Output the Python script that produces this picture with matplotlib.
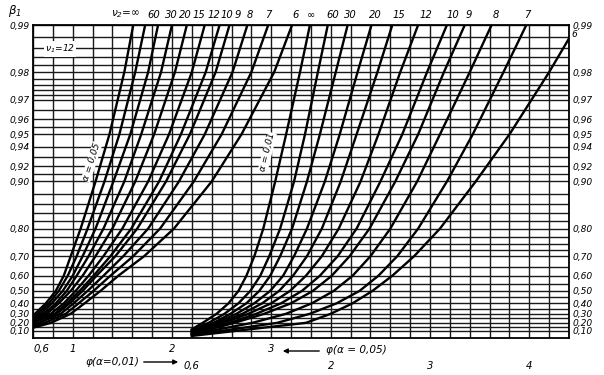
import numpy as np
import matplotlib
matplotlib.use('Agg')
import matplotlib.pyplot as plt

plt.rcParams['font.family'] = ['DejaVu Sans']
plt.rcParams['font.style'] = 'italic'

# ---------------- data ----------------
beta_ticks = [0.10, 0.20, 0.30, 0.40, 0.50, 0.60, 0.70, 0.80, 0.90, 0.92,
              0.94, 0.95, 0.96, 0.97, 0.98, 0.99]
beta_tick_labels = ['0,10', '0,20', '0,30', '0,40', '0,50', '0,60', '0,70',
                    '0,80', '0,90', '0,92', '0,94', '0,95', '0,96', '0,97',
                    '0,98', '0,99']
beta_grid = [0.10, 0.15, 0.20, 0.25, 0.30, 0.35, 0.40, 0.45, 0.50, 0.55,
             0.60, 0.65, 0.70, 0.725, 0.75, 0.775, 0.80, 0.82, 0.84, 0.86,
             0.88, 0.90, 0.91, 0.92, 0.93, 0.94, 0.95, 0.955, 0.96, 0.965,
             0.97, 0.972, 0.974, 0.976, 0.978, 0.98, 0.982, 0.984, 0.986,
             0.988, 0.99]

nu2_labels = ['∞', '60', '30', '20', '15', '12', '10', '9', '8', '7', '6']

# power levels at which the curves are read (None = curve starts above)
beta_levels = [0.2, 0.3, 0.4, 0.5, 0.6, 0.7, 0.8, 0.9, 0.95, 0.98, 0.99]

# alpha = 0.05 family (row-1 phi scale); every curve starts at phi = 0.6
a05_start_phi = 0.6
a05_start_beta = [0.28, 0.27, 0.26, 0.25, 0.23, 0.22, 0.21, 0.20, 0.18, 0.16, 0.14]
a05_phi = [
    [None, 0.62, 0.73, 0.83, 0.91, 0.98, 1.08, 1.23, 1.37, 1.52, 1.61],
    [None, 0.65, 0.76, 0.86, 0.95, 1.04, 1.15, 1.32, 1.47, 1.63, 1.73],
    [None, 0.68, 0.79, 0.90, 1.00, 1.10, 1.23, 1.41, 1.58, 1.76, 1.86],
    [None, 0.71, 0.83, 0.94, 1.04, 1.16, 1.31, 1.52, 1.69, 1.89, 2.00],
    [None, 0.74, 0.86, 0.98, 1.10, 1.23, 1.40, 1.63, 1.82, 2.03, 2.15],
    [None, 0.78, 0.91, 1.03, 1.16, 1.31, 1.50, 1.76, 1.97, 2.20, 2.33],
    [None, 0.82, 0.94, 1.07, 1.21, 1.38, 1.59, 1.87, 2.09, 2.34, 2.48],
    [None, 0.84, 0.97, 1.10, 1.24, 1.43, 1.65, 1.94, 2.18, 2.44, 2.58],
    [0.66, 0.88, 1.01, 1.15, 1.31, 1.51, 1.76, 2.07, 2.33, 2.61, 2.76],
    [0.72, 0.93, 1.06, 1.21, 1.38, 1.61, 1.88, 2.22, 2.50, 2.80, 2.97],
    [0.78, 0.98, 1.12, 1.28, 1.46, 1.72, 2.02, 2.40, 2.70, 3.03, 3.21],
]

# alpha = 0.01 family (row-2 phi scale); every curve starts at phi = 0.6
a01_start_phi = 0.6
a01_start_beta = [0.12, 0.11, 0.10, 0.09, 0.08, 0.07, 0.06, 0.055, 0.05, 0.04, 0.03]
a01_phi = [
    [0.71, 0.85, 0.97, 1.07, 1.15, 1.23, 1.32, 1.44, 1.55, 1.69, 1.79],
    [0.77, 0.93, 1.07, 1.19, 1.29, 1.38, 1.49, 1.63, 1.74, 1.87, 1.97],
    [0.82, 0.99, 1.15, 1.28, 1.39, 1.49, 1.61, 1.76, 1.89, 2.05, 2.17],
    [0.85, 1.05, 1.23, 1.39, 1.52, 1.63, 1.76, 1.94, 2.09, 2.27, 2.41],
    [0.89, 1.11, 1.31, 1.48, 1.62, 1.76, 1.91, 2.10, 2.26, 2.47, 2.62],
    [0.92, 1.17, 1.40, 1.59, 1.75, 1.91, 2.08, 2.30, 2.48, 2.70, 2.88],
    [0.98, 1.25, 1.50, 1.71, 1.89, 2.07, 2.26, 2.50, 2.72, 2.97, 3.17],
    [1.03, 1.33, 1.60, 1.82, 2.01, 2.19, 2.39, 2.65, 2.88, 3.14, 3.35],
    [1.21, 1.55, 1.81, 2.03, 2.22, 2.40, 2.60, 2.87, 3.10, 3.40, 3.62],
    [1.46, 1.79, 2.06, 2.29, 2.48, 2.67, 2.88, 3.17, 3.43, 3.74, 3.97],
    [1.75, 2.00, 2.22, 2.42, 2.62, 2.84, 3.10, 3.46, 3.80, 4.20, 4.48],
]

phi_lim = (0.6, 6.0)      # row-1 scale
phi_shift = 1.6           # row-2 scale starts 1.6 units further right

# ---------------- layout (label anchors, phi units) ----------------
a05_label_x = [1.68, 1.82, 1.99, 2.13, 2.27, 2.42, 2.55, 2.66, 2.78, 2.97, 3.25]
a01_label_x = [1.80, 2.02, 2.20, 2.45, 2.69, 2.96, 3.23, 3.39, 3.66, 3.98]

# ---------------- figure ----------------
W, H = 604, 375
fig = plt.figure(figsize=(W / 100, H / 100), dpi=100)
L, R, T, B = 33, 569, 25, 338
ax = fig.add_axes([L / W, 1 - B / H, (R - L) / W, (B - T) / H])


def fwd(b):
    b = np.asarray(b, dtype=float)
    return -np.log(1 - np.clip(b, -10, 0.9999))


def inv(t):
    return 1 - np.exp(-np.asarray(t, dtype=float))


ax.set_yscale('function', functions=(fwd, inv))
ax2 = ax.twiny()
ax2.axis('off')

gc = '#1a1a1a'
for b in beta_grid:
    ax.plot(phi_lim, [b, b], color=gc, lw=1.0, zorder=1)
for p in np.arange(phi_lim[0], phi_lim[1] + 1e-6, 0.2):
    ax.axvline(p, color=gc, lw=1.0, zorder=1)
for s in ax.spines.values():
    s.set_linewidth(1.3)


def curve(start_phi, start_beta, row):
    xs, ys = [start_phi], [start_beta]
    for b, p in zip(beta_levels, row):
        if p is not None:
            xs.append(p)
            ys.append(b)
    return xs, ys


lw = 1.7
for sb, row in zip(a05_start_beta, a05_phi):
    xs, ys = curve(a05_start_phi, sb, row)
    ax.plot(xs, ys, color='black', lw=lw, zorder=3, solid_joinstyle='round')
for sb, row in zip(a01_start_beta, a01_phi):
    xs, ys = curve(a01_start_phi, sb, row)
    ax2.plot(xs, ys, color='black', lw=lw, zorder=3, solid_joinstyle='round')

ax.set_ylim(0.0, 0.99)
ax.set_xlim(*phi_lim)
ax2.set_xlim(phi_lim[0] - phi_shift, phi_lim[1] - phi_shift)

fs = 7.2
tfs = 6.6
ax.set_yticks(beta_ticks)
ax.set_yticklabels(beta_tick_labels, fontsize=tfs)
ax.tick_params(axis='y', length=0, pad=2.5, labelright=True)
ax.set_xticks([])

# top nu2 labels
top = ax.get_xaxis_transform()
top2 = ax2.get_xaxis_transform()
for i, (lab, xl) in enumerate(zip(nu2_labels, a05_label_x)):
    if i == 0:
        ax.text(xl, 1.015, 'ν$_2$=∞', transform=top, ha='right',
                va='bottom', fontsize=fs + 0.4)
    else:
        ax.text(xl, 1.015, lab, transform=top, ha='center', va='bottom',
                fontsize=fs)
for lab, xl in zip(nu2_labels[:-1], a01_label_x):
    ax2.text(xl, 1.015, lab, transform=top2, ha='center', va='bottom',
             fontsize=fs)
ax.text(1.004, 0.9885, '6', transform=ax.get_yaxis_transform(), ha='left',
        va='center', fontsize=tfs)

fig.text(8 / W, 1 - 11 / H, 'β$_1$', fontsize=8.5, ha='left', va='center')
ax.text(0.72, 0.987, 'ν$_1$=12', fontsize=tfs, ha='left', va='top',
        bbox=dict(facecolor='white', edgecolor='none', pad=1.0), zorder=5)

ax.text(1.19, 0.925, 'α = 0,05', rotation=72, fontsize=tfs, ha='center',
        va='center', zorder=5,
        bbox=dict(facecolor='white', edgecolor='none', pad=0.3))
ax2.text(1.36, 0.935, 'α = 0,01', rotation=76, fontsize=tfs, ha='center',
         va='center', zorder=5,
         bbox=dict(facecolor='white', edgecolor='none', pad=0.3))

# bottom scales
bx = ax.get_xaxis_transform()
bx2 = ax2.get_xaxis_transform()
for v, s in [(0.6, '0,6'), (1, '1'), (2, '2'), (3, '3')]:
    ax.text(v + (0.01 if v == 0.6 else 0), -0.02, s, transform=bx,
            ha='left' if v == 0.6 else 'center', va='top', fontsize=fs)
for v, s in [(0.6, '0,6'), (2, '2'), (3, '3'), (4, '4')]:
    ax2.text(v, -0.075, s, transform=bx2, ha='center', va='top', fontsize=fs)

fig.text(85 / W, 1 - 362 / H, 'φ(α=0,01)', fontsize=fs + 0.4, ha='left',
         va='center')
fig.text(326 / W, 1 - 350 / H, 'φ(α = 0,05)', fontsize=fs + 0.4, ha='left',
         va='center')
arrow = dict(arrowstyle='-|>', color='black', lw=1.0, mutation_scale=7)
ax.annotate('', xy=(181, H - 362), xytext=(141, H - 362),
            xycoords='figure pixels', textcoords='figure pixels',
            arrowprops=arrow, annotation_clip=False)
ax.annotate('', xy=(280, H - 351), xytext=(322, H - 351),
            xycoords='figure pixels', textcoords='figure pixels',
            arrowprops=arrow, annotation_clip=False)

fig.savefig('out.png', dpi=100, facecolor='white')
